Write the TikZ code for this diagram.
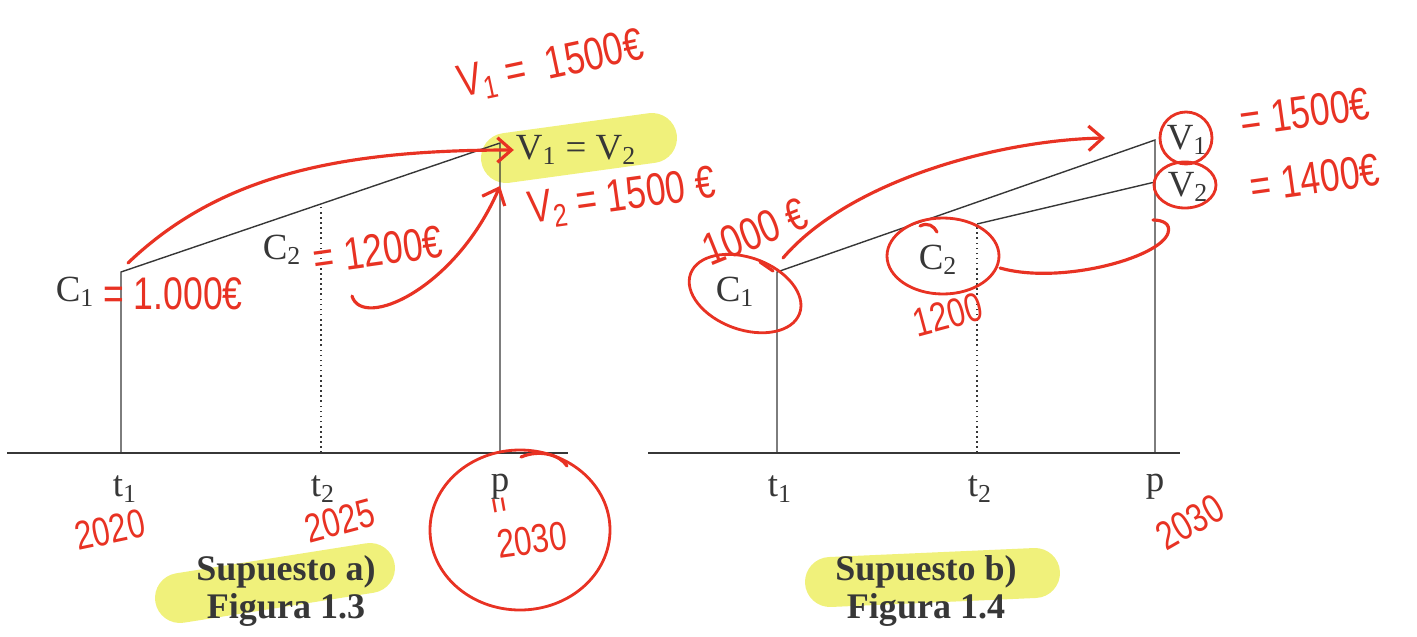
\documentclass[tikz,border=0pt]{standalone}
\usepackage{fontspec}
\setmainfont{Liberation Serif}
\newfontfamily\handfont[FakeStretch=0.78]{Liberation Sans}
\usetikzlibrary{arrows.meta,positioning,calc}
\definecolor{ink}{RGB}{55,55,55}
\definecolor{pen}{RGB}{232,50,35}
\definecolor{marker}{RGB}{236,238,90}
\tikzset{
  every picture/.style={font=\fontsize{21}{24}\selectfont},
  axisline/.style={ink,line width=0.8pt},
  guide/.style={ink,line width=0.9pt,dotted},
  lbl/.style={ink,inner sep=1pt},
  caption/.style={ink,font=\fontsize{20.5}{24}\selectfont\bfseries,inner sep=1pt},
  note/.style={pen,font=\handfont\fontsize{26}{28}\selectfont,inner sep=0pt},
  year/.style={note,font=\handfont\fontsize{23}{26}\selectfont},
  pencurve/.style={pen,line width=1.8pt,line cap=round},
  penarrow/.style={pencurve,-{Straight Barb[length=8pt,width=14pt,line width=1.8pt]}},
  ring/.style={pen,line width=1.6pt},
  hilite/.style={marker,opacity=0.8,line width=1cm,line cap=round},
}

\begin{document}
\begin{tikzpicture}[x=0.02cm,y=-0.02cm]
  \useasboundingbox (0,0) rectangle (1417,636);

  % highlighter first, under the print
  \draw[hilite] (506,158) -- (652,138);
  \draw[hilite] (180,598) -- (370,568);
  \draw[hilite] (830,582) -- (1035,573);

  % Supuesto a)
  \coordinate (a0) at (7,453);
  \coordinate (a9) at (568,453);
  \coordinate (a1) at (121,453);
  \coordinate (a2) at (321,453);
  \coordinate (ap) at (500,453);
  \coordinate (c1a) at (121,272);
  \coordinate (c2a) at (321,204);
  \coordinate (va) at (500,143);
  \draw[axisline] (a0) -- (a9);
  \draw[axisline] (a1) -- (c1a) -- (va) -- (ap);
  \draw[guide] (a2) -- (c2a);

  \node[lbl] (t1a) at (125,489) {t\textsubscript{1}};
  \node[lbl] (t2a) at (323,489) {t\textsubscript{2}};
  \node[lbl] (pa) at (500,487) {p};
  \node[lbl] (C1a) at (75,292) {C\textsubscript{1}};
  \node[lbl] (C2a) at (282,250) {C\textsubscript{2}};
  \node[lbl] (Va) at (576,150) {V\textsubscript{1} = V\textsubscript{2}};
  \node[caption] (supa) at (286,572) {Supuesto a)};
  \node[caption] (figa) at (286,610) {Figura 1.3};

  % Supuesto b)
  \coordinate (b0) at (648,453);
  \coordinate (b9) at (1180,453);
  \coordinate (b1) at (777,453);
  \coordinate (b2) at (977,453);
  \coordinate (bp) at (1155,453);
  \coordinate (c1b) at (777,272);
  \coordinate (c2b) at (977,224);
  \coordinate (v1b) at (1155,140);
  \coordinate (v2b) at (1155,182);
  \draw[axisline] (b0) -- (b9);
  \draw[axisline] (b1) -- (c1b) -- (v1b) -- (bp);
  \draw[axisline] (c2b) -- (v2b);
  \draw[guide] (b2) -- (c2b);

  \node[lbl] (t1b) at (780,489) {t\textsubscript{1}};
  \node[lbl] (t2b) at (980,489) {t\textsubscript{2}};
  \node[lbl] (pb) at (1155,487) {p};
  \node[lbl] (C1b) at (735,292) {C\textsubscript{1}};
  \node[lbl] (C2b) at (938,260) {C\textsubscript{2}};
  \node[lbl] (V1b) at (1187,140) {V\textsubscript{1}};
  \node[lbl] (V2b) at (1188,187) {V\textsubscript{2}};
  \node[caption] (supb) at (926,572) {Supuesto b)};
  \node[caption] (figb) at (926,610) {Figura 1.4};

  % pen notes, left
  \node[note,rotate=12] (nv1a) at (551,66) {V\textsubscript{1} =\ \ 1500€};
  \node[note,rotate=8] (nv2a) at (622,198) {V\textsubscript{2} = 1500 €};
  \node[note] (nc1a) at (173,294) {= 1.000€};
  \node[note,rotate=8] (nc2a) at (378,250) {= 1200€};
  \node[year,rotate=12] (y1a) at (110,530) {2020};
  \node[year,rotate=15] (y2a) at (340,521) {2025};
  \node[year,rotate=-80,font=\handfont\fontsize{20}{20}\selectfont] (eqa) at (496,506) {=};
  \node[year,rotate=8] (y3a) at (532,540) {2030};
  \draw[ring] (y3a) ++(-12,-10) ellipse [x radius=90, y radius=80];
  \draw[pencurve] (521,457) .. controls (540,449) and (560,455) .. (567,466);
  \draw[penarrow] (128,263) .. controls (220,175) and (340,150) .. (Va.west);
  \draw[penarrow] (352,296) .. controls (362,330) and (455,290) .. (500,186);

  % pen notes, right
  \node[note,rotate=22] (nc1b) at (755,232) {1000 €};
  \node[note,rotate=8] (nv1b) at (1305,112) {= 1500€};
  \node[note,rotate=8] (nv2b) at (1315,178) {= 1400€};
  \node[year,rotate=15] (nc2b) at (948,315) {1200};
  \node[year,rotate=30] (y3b) at (1190,522) {2030};
  \draw[ring,rotate around={-20:(C1b)}] (C1b) ++(10,-2) ellipse [x radius=58, y radius=36];
  \draw[pencurve] (760,262) -- (773,271);
  \draw[ring] (C2b) ++(5,-4) ellipse [x radius=56, y radius=38];
  \draw[pencurve] (920,226) .. controls (928,222) and (934,226) .. (937,232);
  \draw[ring] (V1b) ++(-1,-2) circle [radius=26];
  \draw[ring] (V2b) ++(-3,-2) ellipse [x radius=31, y radius=23];
  \draw[penarrow] (783,258) .. controls (850,180) and (1000,140) .. (1105,138);
  \draw[pencurve] (1000,268) .. controls (1060,285) and (1160,258) .. (1168,233)
    .. controls (1171,224) and (1163,220) .. (1153,220);
\end{tikzpicture}
\end{document}
